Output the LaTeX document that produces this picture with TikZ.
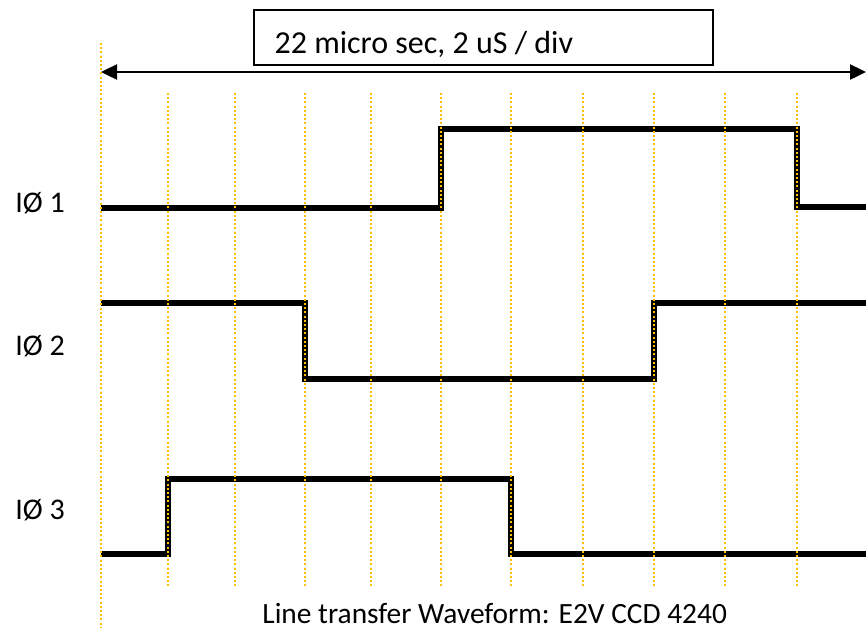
\documentclass[tikz,border=0pt]{standalone}
\usepackage{fontspec}
\setmainfont{Carlito}
\usetikzlibrary{arrows.meta}
\definecolor{divgold}{HTML}{FFC000}
\tikzset{
  wave/.style={line width=2.6pt, line join=miter},
  divline/.style={divgold, line width=0.85pt, dash pattern=on 1pt off 1.1pt},
  siglabel/.style={anchor=base west, inner sep=0pt, font=\fontsize{15}{18}\selectfont},
}
\begin{document}
\begin{tikzpicture}[x=0.5pt, y=-0.5pt]
        \useasboundingbox (0,0) rectangle (866,628);

        % Time span and scale box
        \node[draw, line width=0.8pt, minimum width=229.5pt, minimum height=27.5pt, inner sep=0pt] (scalebox) at (483.5,37.5) {};
        \node[anchor=base west, inner sep=0pt, font=\fontsize{16}{19}\selectfont] (scaletext) at ([xshift=10.5pt, yshift=-7.75pt]scalebox.west) {22 micro sec, 2 uS / div};
        \coordinate (tstart) at (101,72);
        \coordinate (tend) at (866,72);
        \draw[{Triangle[length=8pt,width=7.5pt]}-{Triangle[length=8pt,width=7.5pt]}, line width=1.2pt] (tstart) -- (tend);

        % Phase 1
        \draw[wave] (101,208) -- (441,208) -- (441,129) -- (797,129) -- (797,207) -- (866,207);
        \node[siglabel] (phaseone) at (15,212) {IØ 1};

        % Phase 2
        \draw[wave] (101,303) -- (305,303) -- (305,379) -- (654,379) -- (654,303) -- (866,303);
        \node[siglabel] (phasetwo) at (15,355) {IØ 2};

        % Phase 3
        \draw[wave] (101,554) -- (168,554) -- (168,479) -- (511,479) -- (511,554) -- (866,554);
        \node[siglabel] (phasethree) at (15,519) {IØ 3};

        % Divisions
        \draw[divline] (101,43) -- (101,628);
        \foreach \xd in {168,235,305,371,441,511,583,654,725,797}
            \draw[divline] (\xd,93) -- (\xd,587);

        \node[anchor=base west, inner sep=0pt, font=\fontsize{14.7}{17}\selectfont] (caption) at (262,623) {Line transfer Waveform: E2V CCD 4240};
    \end{tikzpicture}
\end{document}
